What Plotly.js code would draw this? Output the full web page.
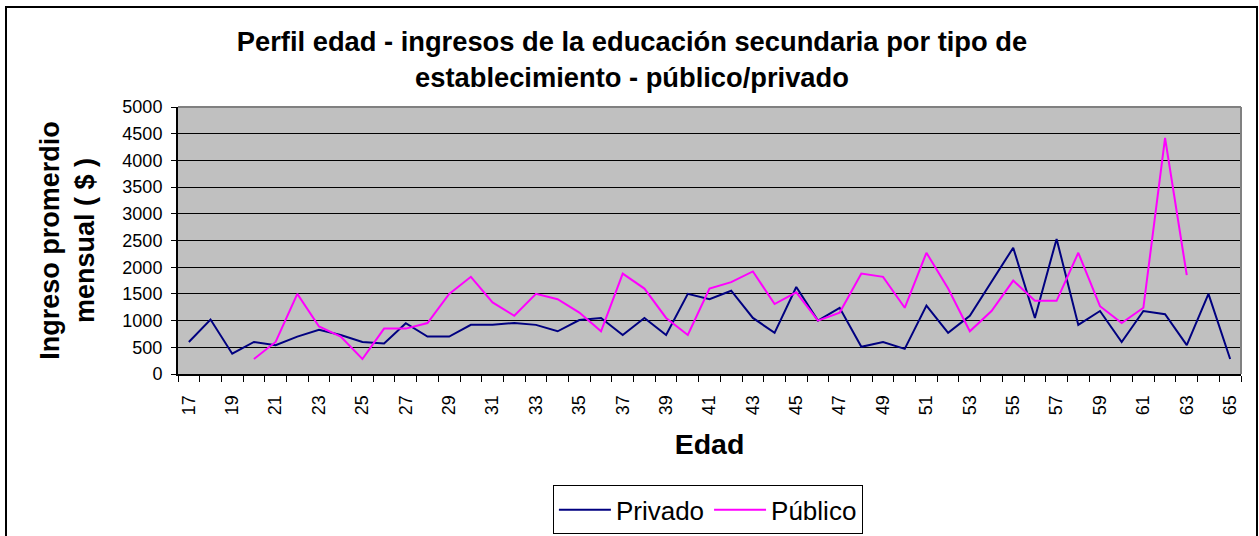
<!DOCTYPE html>
<html>
<head>
<meta charset="utf-8">
<script src="https://cdn.plot.ly/plotly-3.0.1.min.js"></script>
<style>
  html, body { margin: 0; padding: 0; background: #ffffff; overflow: hidden; }
  #chart { position: absolute; left: 0; top: 0; width: 1259px; height: 536px; }
  #frame { position: absolute; left: 5px; top: 6px; width: 1249px; height: 540px;
           border: 2px solid #000000; pointer-events: none; }
</style>
</head>
<body>
<div id="chart"></div>
<div id="frame"></div>
<script>
// ---- data ----
const ages = [17,18,19,20,21,22,23,24,25,26,27,28,29,30,31,32,33,34,35,36,37,38,39,40,41,
              42,43,44,45,46,47,48,49,50,51,52,53,54,55,56,57,58,59,60,61,62,63,64,65];
const privado = [600,1020,380,600,540,700,830,730,600,570,950,700,700,920,920,955,920,800,1010,1050,
                 730,1050,730,1500,1400,1560,1050,770,1630,1000,1240,510,600,470,1280,770,1090,1740,
                 2365,1050,2530,920,1180,600,1180,1120,540,1500,280];
const publico = [null,null,null,280,600,1500,890,700,280,850,850,955,1500,1820,1340,1090,1500,1400,
                 1150,800,1880,1600,1050,730,1600,1720,1920,1310,1530,1000,1150,1880,1820,1240,2270,
                 1600,800,1180,1750,1370,1370,2270,1270,955,1240,4420,1850,null,null];
const xTickVals = [17,19,21,23,25,27,29,31,33,35,37,39,41,43,45,47,49,51,53,55,57,59,61,63,65];
const xTickLabels = ['17','19','21','23','25','27','29','31','33','35','37','39','41','43','45',
                     '47','49','51','53','55','57','59','61','63','65'];
const seriesNames = ['Privado', 'Público'];
const chartTitle = 'Perfil edad - ingresos de la educación secundaria por tipo de<br>establecimiento - público/privado';
const xTitle = 'Edad';
const yTitle = 'Ingreso promerdio<br>mensual ( $ )';

const FONT = 'Liberation Sans, Arial, Helvetica, sans-serif';

const traces = [
  { x: ages, y: privado, name: seriesNames[0], type: 'scatter', mode: 'lines',
    line: { color: '#000080', width: 2 }, connectgaps: false },
  { x: ages, y: publico, name: seriesNames[1], type: 'scatter', mode: 'lines',
    line: { color: '#FF00FF', width: 2 }, connectgaps: false }
];

const layout = {
  width: 1259, height: 536,
  margin: { l: 178, r: 18, t: 107, b: 162, pad: 0, autoexpand: false },
  paper_bgcolor: 'rgba(0,0,0,0)',
  plot_bgcolor: '#C0C0C0',
  font: { family: FONT, color: '#000000' },
  title: {
    text: chartTitle, xref: 'container', x: 0.502, xanchor: 'center',
    yref: 'container', y: 0.904, yanchor: 'top',
    font: { family: FONT, size: 27.3, weight: 'bold', color: '#000000' }
  },
  xaxis: {
    type: 'linear', range: [16.5, 65.5], automargin: false,
    tickmode: 'array', tickvals: xTickVals, ticktext: xTickLabels,
    ticks: '', tickangle: -90, ticklabelstandoff: 12,
    tickfont: { family: FONT, size: 18, color: '#000000' },
    showgrid: false, zeroline: false,
    showline: true, linecolor: '#000000', linewidth: 2,
    minor: { tickmode: 'linear', tick0: 16.5, dtick: 1, ticks: 'outside', ticklen: 6,
             tickcolor: '#000000', tickwidth: 1, showgrid: false },
    title: { text: xTitle, standoff: 20, font: { family: FONT, size: 28.5, weight: 'bold', color: '#000000' } },
    fixedrange: true
  },
  yaxis: {
    range: [0, 5000], tickmode: 'linear', tick0: 0, dtick: 500, automargin: false,
    ticks: 'outside', ticklen: 5, tickcolor: '#000000', tickwidth: 1, ticklabelstandoff: 5,
    tickfont: { family: FONT, size: 18, color: '#000000' },
    showgrid: true, gridcolor: '#000000', gridwidth: 1,
    zeroline: false, showline: true, linecolor: '#000000', linewidth: 2,
    title: { text: yTitle, standoff: 20, font: { family: FONT, size: 27, weight: 'bold', color: '#000000' } },
    fixedrange: true
  },
  shapes: [
    { type: 'line', xref: 'paper', yref: 'paper', x0: 0, x1: 1, y0: 1, y1: 1,
      line: { color: '#808080', width: 2 }, layer: 'above' },
    { type: 'line', xref: 'paper', yref: 'paper', x0: 1, x1: 1, y0: 0, y1: 1,
      line: { color: '#808080', width: 2 }, layer: 'above' }
  ],
  showlegend: true,
  legend: {
    orientation: 'h', x: 0.4985, xanchor: 'center', y: -0.417, yanchor: 'top',
    bgcolor: '#FFFFFF', bordercolor: '#000000', borderwidth: 1, itemwidth: 52,
    font: { family: FONT, size: 26, color: '#000000' }
  }
};

Plotly.newPlot('chart', traces, layout, { staticPlot: true, displayModeBar: false });
</script>
</body>
</html>
